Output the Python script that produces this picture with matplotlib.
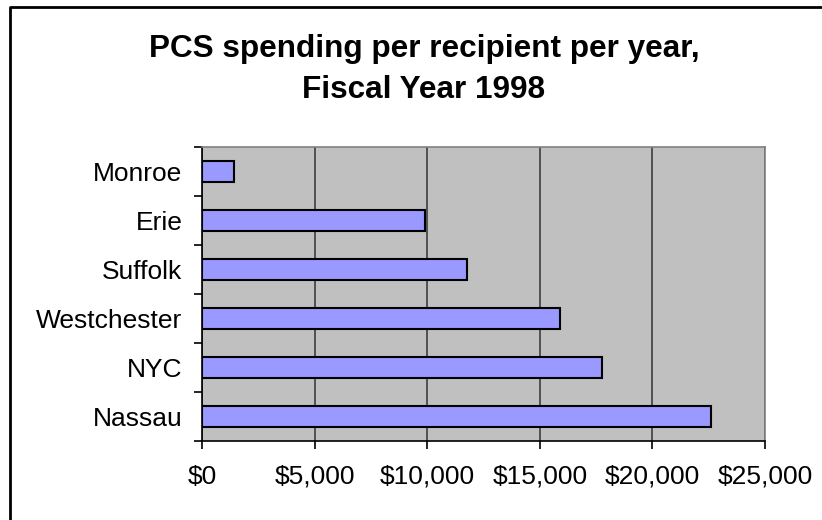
import numpy as np
import matplotlib.pyplot as plt
from matplotlib.lines import Line2D
from matplotlib.ticker import FuncFormatter, MultipleLocator

# data (top to bottom)
counties = ["Monroe", "Erie", "Suffolk", "Westchester", "NYC", "Nassau"]
spending = [1400, 9900, 11750, 15900, 17750, 22600]

plt.rcParams["font.family"] = ["Liberation Sans", "DejaVu Sans"]

fig = plt.figure(figsize=(8.22, 5.2), dpi=100)

# outer chart border (only left and top edges are visible in the crop)
fig.lines.append(Line2D([10 / 822, 10 / 822, 1], [0, 1 - 7 / 520, 1 - 7 / 520],
                        transform=fig.transFigure, color="black", linewidth=2))

ax = fig.add_axes([202 / 822, 1 - 441 / 520, 563 / 822, 294 / 520])
ax.set_facecolor("#C0C0C0")

y = np.arange(len(counties))
ax.barh(y, spending, height=0.42, color="#9999FF", edgecolor="black",
        linewidth=1.5, zorder=3)

ax.set_xlim(0, 25000)
ax.set_ylim(len(counties) - 0.5, -0.5)

ax.xaxis.set_major_locator(MultipleLocator(5000))
ax.xaxis.set_major_formatter(FuncFormatter(lambda v, p: f"${v:,.0f}"))
ax.grid(axis="x", color="#505050", linewidth=1.4, zorder=1)

ax.set_yticks(y)
ax.set_yticklabels(counties)
ax.set_yticks(np.arange(len(counties) + 1) - 0.5, minor=True)
ax.tick_params(axis="y", which="major", length=0, pad=14, labelsize=19)
ax.tick_params(axis="y", which="minor", length=6, width=1.2, direction="out")
ax.tick_params(axis="x", length=6, width=1.2, direction="out", pad=11,
               labelsize=19)

for side in ["top", "right"]:
    ax.spines[side].set_color("#808080")
    ax.spines[side].set_linewidth(1.2)
for side in ["left", "bottom"]:
    ax.spines[side].set_color("black")
    ax.spines[side].set_linewidth(1.2)

fig.text(424 / 822, 1 - 57 / 520, "PCS spending per recipient per year,",
         ha="center", va="baseline", fontsize=22.7, fontweight="bold")
fig.text(424 / 822, 1 - 98 / 520, "Fiscal Year 1998",
         ha="center", va="baseline", fontsize=22.7, fontweight="bold")

fig.savefig("out.png", dpi=100)
